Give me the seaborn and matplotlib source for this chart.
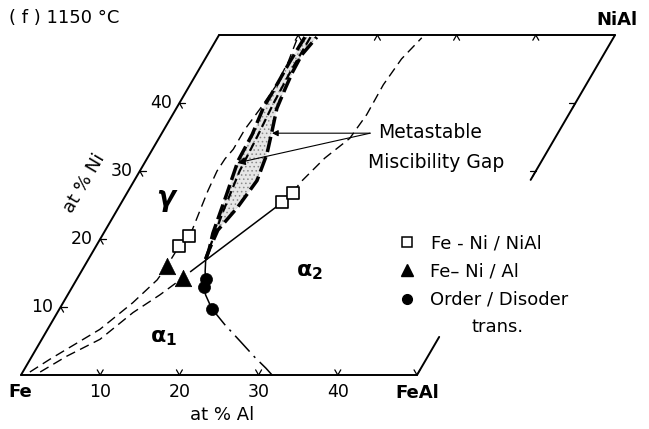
import numpy as np
import pandas as pd
import matplotlib
matplotlib.use("Agg")
import matplotlib.pyplot as plt
import seaborn as sns

# ---------------- data (compositions in at% Al, at% Ni) ----------------
gamma_al = [0.9, 2.5, 6.6, 8.8, 10.2, 10.4, 10.5, 11.1, 10.5, 10.05, 9.75, 9.86, 10.2, 10.2, 10.6, 10.9, 10.7, 10.1]
gamma_ni = [0.44, 2.33, 6.71, 10.64, 14.0, 16.0, 19.1, 20.4, 24.2, 27.1, 30.0, 31.8, 33.2, 36.15, 39.07, 42.4, 46.1, 49.7]

alpha_low_al = [2.2, 4.4, 7.35, 9.55, 11.65, 13.3]
alpha_low_ni = [0.44, 2.77, 5.25, 9.18, 11.8, 14.3]
tie_al = [13.8, 20.3]
tie_ni = [15.2, 25.4]
alpha_up_al = [20.9, 21.1, 22.4, 24.1, 24.5, 24.4, 24.8, 25.8]
alpha_up_ni = [26.8, 28.3, 31.9, 34.8, 38.3, 42.7, 46.5, 49.6]

od_solid_al = [14.8, 15.65, 16.3, 16.6, 17.4, 19.2]
od_solid_ni = [17.05, 15.2, 14.1, 13.0, 11.8, 9.77]
od_dash_al = [19.2, 22.0, 25.2, 28.2, 30.4, 31.7]
od_dash_ni = [9.77, 7.43, 4.96, 2.62, 1.02, 0.0]

gap_left_al = [14.8, 14.55, 13.8, 12.65, 11.65, 11.5, 10.96, 10.95, 10.9, 11.0]
gap_left_ni = [17.05, 18.37, 20.85, 26.7, 31.5, 35.4, 39.2, 42.7, 46.06, 49.7]
gap_right_al = [14.8, 14.55, 14.2, 15.0, 15.5, 14.8, 13.75, 12.7, 12.3, 12.0, 11.9, 12.5]
gap_right_ni = [17.05, 18.37, 21.3, 24.6, 28.6, 32.5, 35.9, 39.2, 42.1, 44.6, 47.1, 49.7]
gap_mid_al = [14.5, 13.5, 12.6, 12.3, 11.9, 11.7, 11.7]
gap_mid_ni = [18.5, 24.0, 30.0, 35.0, 40.0, 45.0, 49.7]

sq_al = [10.5, 11.0, 20.3, 20.9]
sq_ni = [18.95, 20.4, 25.4, 26.8]
tri_al = [10.4, 13.3]
tri_ni = [16.0, 14.3]
circ_al = [16.3, 16.6, 19.2]
circ_ni = [14.1, 13.0, 9.77]

al_ticks = [10, 20, 30, 40]
ni_ticks = [10, 20, 30, 40]
al_tick_labels = ["10", "20", "30", "40"]
ni_tick_labels = ["10", "20", "30", "40"]

# ---------------- helpers ----------------
S3 = np.sqrt(3) / 2


def tern(al, ni):
    al = np.asarray(al, float)
    ni = np.asarray(ni, float)
    return al + 0.5 * ni, S3 * ni


sns.set_theme(style="white")
plt.rcParams["font.family"] = ["DejaVu Sans"]
plt.rcParams["hatch.linewidth"] = 0.6

W, H = 649, 429
fig = plt.figure(figsize=(W / 100, H / 100), dpi=100)
ax = fig.add_axes([0, 0, 1, 1])
sx, sy = 7.92, 7.85
x0, y0 = 21, 375
ax.set_xlim(-x0 / sx, (W - x0) / sx)
ax.set_ylim(-(H - y0) / sy, y0 / sy)
ax.axis("off")


def line(al, ni, lw=1.0, ls="-", z=3):
    x, y = tern(al, ni)
    df = pd.DataFrame({"x": x, "y": y})
    sns.lineplot(data=df, x="x", y="y", sort=False, estimator=None,
                 color="black", lw=lw, ax=ax, zorder=z)
    ax.lines[-1].set_linestyle(ls)


# frame
line([0, 50], [0, 0], lw=1.4)
line([0, 0], [0, 50], lw=1.4)
line([0, 50], [50, 50], lw=1.4)
line([50, 50], [0, 5.6], lw=1.4)
line([50, 50], [28.7, 50], lw=1.4)

# edge ticks
L = 0.75
def tick(al, ni, dirs):
    x, y = tern(al, ni)
    for d in dirs:
        a = np.deg2rad(d)
        ax.plot([x, x + L * np.cos(a)], [y, y + L * np.sin(a) * sx / sy],
                color="black", lw=0.9, zorder=3)

for v in al_ticks + [50]:
    tick(v, 0, [60, 120])
for v in al_ticks:
    tick(v, 50, [-60, -120])
for v in ni_ticks:
    tick(0, v, [0, -60])
for v in [30, 40]:
    tick(50, v, [180, 240])

# miscibility gap shading (stippled)
xl, yl = tern(gap_left_al, gap_left_ni)
xr, yr = tern(gap_right_al, gap_right_ni)
ax.fill(np.concatenate([xl, xr[::-1]]), np.concatenate([yl, yr[::-1]]),
        facecolor="#e6e6e6", edgecolor="#8a8a8a", hatch="....", lw=0, zorder=1)

# boundaries
line(gamma_al, gamma_ni, lw=1.0, ls=(0, (7, 4)))
line(alpha_low_al, alpha_low_ni, lw=1.0, ls=(0, (7, 4)))
line(tie_al, tie_ni, lw=1.1)
line(alpha_up_al, alpha_up_ni, lw=1.0, ls=(0, (7, 4)))
line(od_solid_al, od_solid_ni, lw=1.1)
line(od_dash_al, od_dash_ni, lw=1.1, ls=(0, (14, 4, 1.5, 4)))
line(gap_left_al, gap_left_ni, lw=2.5, ls=(0, (4.5, 1.5)))
line(gap_mid_al, gap_mid_ni, lw=1.6, ls=(0, (4, 2)))
line(gap_right_al, gap_right_ni, lw=2.5, ls=(0, (4.5, 1.5)))

# markers
x, y = tern(sq_al, sq_ni)
sns.scatterplot(x=x, y=y, marker="s", s=78, facecolor="white", edgecolor="black",
                linewidth=1.2, ax=ax, zorder=5)
x, y = tern(tri_al, tri_ni)
sns.scatterplot(x=x, y=y, marker="^", s=140, color="black", edgecolor="black",
                linewidth=0.5, ax=ax, zorder=5)
x, y = tern(circ_al, circ_ni)
sns.scatterplot(x=x, y=y, marker="o", s=75, color="black", edgecolor="black",
                linewidth=0.5, ax=ax, zorder=5)

# annotation arrows
ax.annotate("", xy=tern(13.9, 35.57), xytext=tern(26.3, 35.57),
            arrowprops=dict(arrowstyle="-|>", lw=0.8, color="black", mutation_scale=9,
                            shrinkA=0, shrinkB=0))
ax.annotate("", xy=tern(11.7, 31.2), xytext=tern(26.3, 35.57),
            arrowprops=dict(arrowstyle="-|>", lw=0.8, color="black", mutation_scale=12,
                            shrinkA=0, shrinkB=0))

# ---------------- texts (pixel positions -> axes fraction) ----------------
def T(px, py, s, size=12, **kw):
    ax.text(px / W, 1 - py / H, s, transform=ax.transAxes, fontsize=size,
            color="black", **kw)

T(9, 18, "( f ) 1150 °C", 13, ha="left", va="center")
T(617, 20, "NiAl", 13, ha="center", va="center", fontweight="bold")
T(20, 392, "Fe", 13, ha="center", va="center", fontweight="bold")
T(417, 393, "FeAl", 13, ha="center", va="center", fontweight="bold")
for v, lab in zip(al_ticks, al_tick_labels):
    T(21 + sx * v, 392, lab, 12.5, ha="center", va="center")
for v, lab in zip(ni_ticks, ni_tick_labels):
    xx, yy = tern(0, v)
    T(21 + sx * xx - 18, 375 - sy * yy, lab, 12.5, ha="center", va="center")
T(222, 415, "at % Al", 13, ha="center", va="center")
T(84, 183, "at % Ni", 13, ha="center", va="center", rotation=59.5)

T(166, 198, "γ", 20, ha="center", va="center", fontweight="bold", fontstyle="italic")
T(164, 338, r"$\mathbf{\alpha_1}$", 16, ha="center", va="center")
T(309, 272, r"$\mathbf{\alpha_2}$", 16, ha="center", va="center")

T(378, 133, "Metastable", 13.5, ha="left", va="center")
T(368, 163, "Miscibility Gap", 13.5, ha="left", va="center")

# legend
ax.plot([407 / W], [1 - 242 / H], marker="s", ms=6.5, mfc="white", mec="black",
        mew=1.1, transform=ax.transAxes, ls="none")
ax.plot([407 / W], [1 - 270 / H], marker="^", ms=8, color="black",
        transform=ax.transAxes, ls="none")
ax.plot([407 / W], [1 - 299 / H], marker="o", ms=7, color="black",
        transform=ax.transAxes, ls="none")
T(431, 243, "Fe - Ni / NiAl", 13, ha="left", va="center")
T(430, 271, "Fe– Ni / Al", 13, ha="left", va="center")
T(430, 300, "Order / Disoder", 13, ha="left", va="center")
T(498, 327, "trans.", 13, ha="center", va="center")

fig.savefig("out.png", dpi=100)
